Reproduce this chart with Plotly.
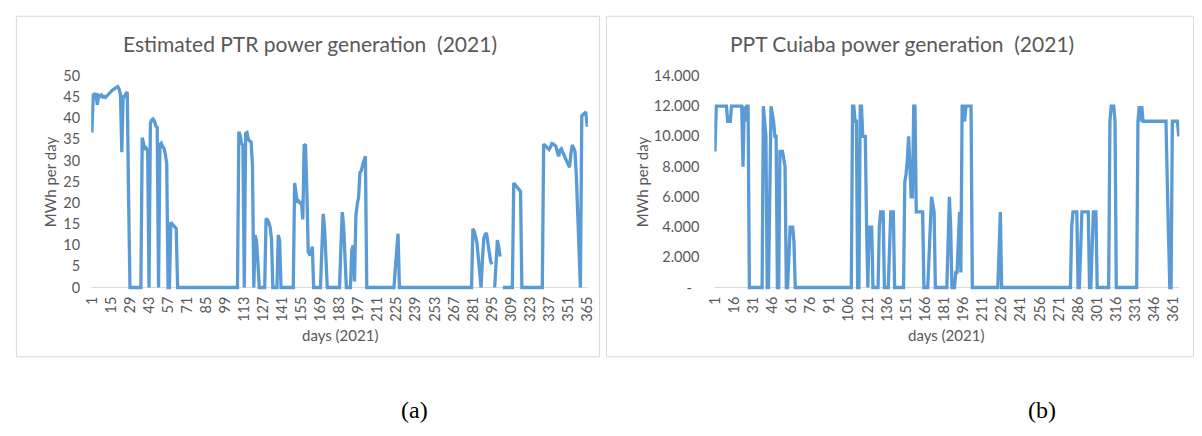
import plotly.graph_objects as go

# Day numbers of 2021
days = list(range(1, 366))

# Estimated PTR generation, MWh per day (None = missing day)
ptr_mwh = [
    36.6, 45.5, 45.7, 45.6, 43.2, 45.4, 45.2, 45.5, 45.0, 45.2,
    44.9, 45.3, 45.8, 46.1, 46.3, 46.6, 46.9, 47.1, 47.3, 47.5,
    46.9, 45.6, 32.0, 45.4, 44.9, 45.8, 46.2, 21.0, 0, 0,
    0, 0, 0, 0, 0, 0, 0, 35.4, 33.4, 32.6,
    32.9, 32.3, 0, 38.8, 39.6, 39.8, 39.3, 38.1, 37.9, 0,
    33.8, 34.1, 33.3, 32.9, 31.5, 29.3, 0, 0, 15.4, 15.0,
    14.6, 14.2, 13.9, 0, 0, 0, 0, 0, 0, 0,
    0, 0, 0, 0, 0, 0, 0, 0, 0, 0,
    0, 0, 0, 0, 0, 0, 0, 0, 0, 0,
    0, 0, 0, 0, 0, 0, 0, 0, 0, 0,
    0, 0, 0, 0, 0, 0, 0, 0, 36.8, 36.0,
    34.0, 33.6, 0, 36.4, 36.6, 35.0, 34.6, 34.4, 29.0, 0,
    12.4, 11.0, 6.0, 0, 0, 0, 0, 0, 16.3, 16.0,
    15.4, 14.2, 11.5, 0, 0, 0, 0, 12.4, 11.0, 0,
    0, 0, 0, 0, 0, 0, 0, 0, 0, 24.7,
    22.5, 20.1, 20.4, 20.0, 20.3, 16.1, 33.8, 33.6, 22.5, 8.4,
    7.8, 7.9, 9.7, 0, 0, 0, 0, 0, 0, 9.0,
    17.4, 14.0, 6.0, 0, 0, 0, 0, 0, 0, 0,
    0, 0, 0, 9.5, 17.8, 14.5, 6.0, 0, 0, 0,
    0, 8.9, 9.9, 1.4, 16.9, 19.6, 21.3, 27.2, 27.6, 29.0,
    30.3, 31.0, 0, 0, 0, 0, 0, 0, 0, 0,
    0, 0, 0, 0, 0, 0, 0, 0, 0, 0,
    0, 0, 0, 4.5, 9.8, 12.7, 0, 0, 0, 0,
    0, 0, 0, 0, 0, 0, 0, 0, 0, 0,
    0, 0, 0, 0, 0, 0, 0, 0, 0, 0,
    0, 0, 0, 0, 0, 0, 0, 0, 0, 0,
    0, 0, 0, 0, 0, 0, 0, 0, 0, 0,
    0, 0, 0, 0, 0, 0, 0, 0, 0, 0,
    13.9, 13.2, 12.0, 10.5, 7.0, 3.5, 0, 6.5, 11.6, 12.5,
    12.9, 10.5, 8.2, 6.2, 5.5, None, 0, 5.5, 11.2, 9.5,
    7.3, None, 0, 0, 0, 0, 0, 0, 0, 0,
    24.7, 24.3, 23.9, 23.2, 22.9, 22.7, 0, 0, 0, 0,
    0, 0, 0, 0, 0, 0, 0, 0, 0, 0,
    0, 0, 33.9, 33.6, 33.2, 32.8, 32.6, 33.2, 34.0, 33.9,
    33.6, 33.4, 32.0, 31.0, 32.5, 32.8, 32.0, 31.0, 30.5, 29.8,
    29.2, 28.4, 31.5, 33.7, 33.0, 32.2, 26.5, 17.5, 8.0, 0,
    40.6, 41.0, 41.4, 41.5, 38.0,
]

# PPT Cuiaba generation, MWh per day
cuiaba_mwh = [
    9000, 12000, 12000, 12000, 12000, 12000, 12000, 12000, 12000, 12000,
    11000, 11000, 11000, 12000, 12000, 12000, 12000, 12000, 12000, 12000,
    12000, 12000, 8000, 12000, 11000, 12000, 12000, 0, 0, 0,
    0, 0, 0, 0, 0, 0, 0, 0, 12000, 11000,
    10000, 0, 0, 6000, 12000, 11500, 11000, 10000, 10000, 0,
    0, 9000, 9000, 9000, 8500, 8000, 0, 0, 2000, 4000,
    4000, 4000, 3000, 0, 0, 0, 0, 0, 0, 0,
    0, 0, 0, 0, 0, 0, 0, 0, 0, 0,
    0, 0, 0, 0, 0, 0, 0, 0, 0, 0,
    0, 0, 0, 0, 0, 0, 0, 0, 0, 0,
    0, 0, 0, 0, 0, 0, 0, 0, 12000, 12000,
    11000, 11000, 0, 0, 12000, 12000, 10000, 10000, 10000, 4000,
    0, 4000, 4000, 4000, 0, 0, 0, 0, 0, 4000,
    5000, 5000, 5000, 0, 0, 0, 0, 2500, 5000, 5000,
    5000, 0, 0, 0, 0, 0, 0, 0, 0, 7000,
    7500, 8500, 10000, 8000, 6000, 6000, 12000, 12000, 5000, 5000,
    5000, 5000, 5000, 5000, 0, 0, 0, 0, 2000, 4500,
    6000, 5500, 5000, 0, 0, 0, 0, 0, 0, 0,
    0, 0, 0, 3000, 6000, 4000, 0, 0, 0, 1000,
    1000, 3000, 5000, 1000, 12000, 12000, 11000, 12000, 12000, 12000,
    12000, 12000, 0, 0, 0, 0, 0, 0, 0, 0,
    0, 0, 0, 0, 0, 0, 0, 0, 0, 0,
    0, 0, 0, 2500, 5000, 0, 0, 0, 0, 0,
    0, 0, 0, 0, 0, 0, 0, 0, 0, 0,
    0, 0, 0, 0, 0, 0, 0, 0, 0, 0,
    0, 0, 0, 0, 0, 0, 0, 0, 0, 0,
    0, 0, 0, 0, 0, 0, 0, 0, 0, 0,
    0, 0, 0, 0, 0, 0, 0, 0, 0, 0,
    4000, 5000, 5000, 5000, 5000, 0, 0, 2500, 5000, 5000,
    5000, 5000, 5000, 5000, 0, 0, 2500, 5000, 5000, 5000,
    0, 0, 0, 0, 0, 0, 0, 0, 0, 0,
    11000, 12000, 12000, 12000, 11000, 0, 0, 0, 0, 0,
    0, 0, 0, 0, 0, 0, 0, 0, 0, 0,
    0, 0, 11000, 12000, 11000, 12000, 11000, 11000, 11000, 11000,
    11000, 11000, 11000, 11000, 11000, 11000, 11000, 11000, 11000, 11000,
    11000, 11000, 11000, 11000, 11000, 7000, 3500, 0, 0, 11000,
    11000, 11000, 11000, 11000, 10000,
]

assert len(ptr_mwh) == 365 and len(cuiaba_mwh) == 365

# Tick labels
ptr_xticks = list(range(1, 366, 14))
cuiaba_xticks = list(range(1, 362, 15))
ptr_yticks = [0, 5, 10, 15, 20, 25, 30, 35, 40, 45, 50]
cuiaba_yticks = [0, 2000, 4000, 6000, 8000, 10000, 12000, 14000]
cuiaba_ytext = ["-\u00a0\u00a0", "2.000", "4.000", "6.000", "8.000", "10.000", "12.000", "14.000"]

W, H = 1202, 436
BLUE = "#5B9BD5"
GREY_TXT = "#595959"
FONT = "Lato"


def px_x(p):
    return p / W


def px_y(p):
    return 1 - p / H


fig = go.Figure()
fig.add_trace(go.Scatter(x=days, y=ptr_mwh, mode="lines", xaxis="x", yaxis="y",
                         line=dict(color=BLUE, width=3.3), connectgaps=False,
                         showlegend=False))
fig.add_trace(go.Scatter(x=days, y=cuiaba_mwh, mode="lines", xaxis="x2", yaxis="y2",
                         line=dict(color=BLUE, width=3.3), connectgaps=False,
                         showlegend=False))

y_dom = [px_y(291.4), px_y(69)]
common_x = dict(tickangle=-90, showgrid=False, zeroline=False, showline=False,
                ticks="", tickfont=dict(family=FONT, size=14.5, color=GREY_TXT),
                ticklabelstandoff=1, fixedrange=True)
common_y = dict(showgrid=False, zeroline=False, showline=False, ticks="",
                tickfont=dict(family=FONT, size=14.5, color=GREY_TXT), fixedrange=True)

fig.update_layout(
    width=W, height=H,
    margin=dict(l=0, r=0, t=0, b=0),
    paper_bgcolor="white", plot_bgcolor="white",
    xaxis=dict(domain=[px_x(83.3), px_x(586.7)], range=[0.5, 365.5],
               tickvals=ptr_xticks, ticktext=[str(v) for v in ptr_xticks],
               anchor="y", **common_x),
    yaxis=dict(domain=y_dom, range=[-1, 50], tickvals=ptr_yticks,
               ticktext=[str(v) for v in ptr_yticks], anchor="x",
               ticklabelstandoff=10, **common_y),
    xaxis2=dict(domain=[px_x(714.85), px_x(1186.15)], range=[0.5, 365.5],
                tickvals=cuiaba_xticks, ticktext=[str(v) for v in cuiaba_xticks],
                anchor="y2", **common_x),
    yaxis2=dict(domain=y_dom, range=[-280, 14000], tickvals=cuiaba_yticks,
                ticktext=cuiaba_ytext, anchor="x2", ticklabelstandoff=14, **common_y),
)

shapes = [
    # zero baselines
    dict(type="line", xref="x", yref="y", x0=0.5, x1=365.5, y0=0, y1=0,
         line=dict(color="#D9D9D9", width=1), layer="below"),
    dict(type="line", xref="x2", yref="y2", x0=0.5, x1=365.5, y0=0, y1=0,
         line=dict(color="#D9D9D9", width=1), layer="below"),
    # chart frames
    dict(type="rect", xref="paper", yref="paper", x0=px_x(7.5), x1=px_x(598.5),
         y0=px_y(358.5), y1=px_y(7.5), line=dict(color="#D9D9D9", width=1), layer="below"),
    dict(type="rect", xref="paper", yref="paper", x0=px_x(605.5), x1=px_x(1200.5),
         y0=px_y(358.5), y1=px_y(7.5), line=dict(color="#D9D9D9", width=1), layer="below"),
]
fig.update_layout(shapes=shapes)


def label(text, x, y, size, color=GREY_TXT, family=FONT, angle=0):
    return dict(text=text, xref="paper", yref="paper", x=px_x(x), y=px_y(y),
                xanchor="center", yanchor="middle", showarrow=False, textangle=angle,
                font=dict(family=family, size=size, color=color))


fig.update_layout(annotations=[
    label("Estimated PTR power generation  (2021)", 305, 36, 21),
    label("PPT Cuiaba power generation  (2021)", 905, 36, 21),
    label("MWh per day", 41, 178, 15, angle=-90),
    label("MWh per day", 641, 178, 15, angle=-90),
    label("days (2021)", 335, 336, 15),
    label("days (2021)", 950, 336, 15),
    label("(a)", 411, 413, 24, color="black", family="Liberation Serif"),
    label("(b)", 1047, 413, 24, color="black", family="Liberation Serif"),
])

fig.write_html("out.html")
